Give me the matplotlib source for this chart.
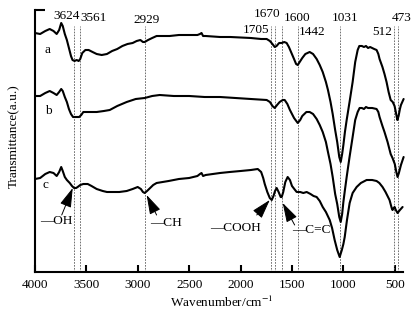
import matplotlib
matplotlib.use("Agg")
import matplotlib.pyplot as plt

plt.rcParams['font.family'] = ['Liberation Serif', 'DejaVu Serif']
plt.rcParams['mathtext.fontset'] = 'stix'

# ---- data (transmittance in arbitrary units, offset curves) ----
wn_a = [4000, 3950, 3900, 3857, 3820, 3789, 3765, 3745, 3730, 3710, 3690, 3670, 3650, 3635,
        3615, 3595, 3575, 3560, 3540, 3510, 3478, 3440, 3400, 3351, 3300, 3250, 3200, 3150,
        3100, 3050, 3011, 2975, 2950, 2933, 2900, 2860, 2817, 2750, 2690, 2600, 2500, 2420,
        2395, 2380, 2365, 2340, 2200, 2100, 1900, 1800, 1746, 1715, 1690, 1668, 1650, 1625,
        1600, 1575, 1552, 1530, 1505, 1480, 1460, 1444, 1425, 1400, 1370, 1328, 1295, 1260,
        1230, 1201, 1170, 1150, 1125, 1104, 1080, 1060, 1040, 1026, 1012, 1000, 985, 968,
        940, 910, 885, 861, 845, 820, 800, 780, 760, 740, 720, 700, 677, 660, 648, 620,
        600, 580, 560, 540, 520, 502, 490, 475, 463, 450, 440, 414]
tr_a = [239, 238, 241, 243, 241, 238, 242, 249, 246, 238, 232, 224, 216, 212,
        211, 212, 211, 213, 219, 222, 222, 220, 218, 217, 218, 221, 223, 226,
        228, 229, 231, 232, 230, 230, 232, 234, 236, 236, 236, 237, 237, 237,
        238, 239, 236, 236, 235, 235, 234, 233, 233, 231, 228, 225, 226, 229,
        229, 230, 229, 225, 219, 213, 208, 207, 210, 214, 218, 220, 218, 213,
        207, 200, 190, 182, 170, 158, 142, 130, 115, 110, 118, 127, 140, 152,
        170, 190, 210, 222, 226, 226, 225, 226, 224, 225, 224, 223, 222, 218, 213, 205,
        198, 190, 180, 172, 170, 166, 160, 152, 156, 163, 167, 173]

wn_b = [4000, 3950, 3900, 3857, 3820, 3789, 3765, 3745, 3730, 3710, 3690, 3670, 3650, 3630,
        3600, 3570, 3550, 3530, 3480, 3400, 3330, 3273, 3200, 3108, 3020, 2933, 2860, 2787,
        2650, 2500, 2350, 2200, 1900, 1746, 1715, 1690, 1668, 1645, 1620, 1590, 1571, 1545,
        1520, 1480, 1444, 1420, 1400, 1360, 1328, 1295, 1260, 1230, 1201, 1170, 1150, 1125,
        1104, 1080, 1060, 1040, 1026, 1012, 1000, 985, 968, 940, 910, 885, 861, 842, 820,
        800, 780, 760, 720, 677, 660, 648, 620, 600, 570, 540, 522, 500, 485, 473, 460,
        440, 414]
tr_b = [176, 176, 179, 181, 179, 177, 180, 183, 181, 175, 170, 163, 158, 155,
        155, 155, 157, 160, 160, 160, 161, 162, 166, 170, 173, 174, 176, 177,
        176, 176, 175, 175, 173, 172, 170, 166, 164, 167, 170, 172, 172, 168,
        162, 154, 149, 152, 156, 160, 160, 158, 153, 147, 140, 130, 120, 108,
        95, 78, 68, 55, 50, 58, 70, 82, 95, 115, 135, 152, 160, 164, 164,
        163, 165, 164, 164, 163, 160, 155, 146, 140, 130, 118, 114, 108, 100, 95, 99,
        107, 115]

wn_c = [4000, 3950, 3900, 3857, 3820, 3789, 3765, 3745, 3730, 3710, 3690, 3662, 3640, 3620,
        3600, 3585, 3560, 3530, 3487, 3450, 3400, 3341, 3300, 3244, 3180, 3108, 3050, 3001,
        2970, 2950, 2933, 2910, 2880, 2850, 2817, 2700, 2600, 2500, 2420, 2395, 2380, 2365,
        2340, 2200, 2106, 2000, 1900, 1833, 1800, 1780, 1765, 1740, 1716, 1697, 1680, 1665,
        1649, 1630, 1610, 1600, 1585, 1565, 1542, 1520, 1500, 1470, 1454, 1420, 1390, 1357,
        1320, 1290, 1260, 1230, 1201, 1170, 1133, 1110, 1085, 1060, 1036, 1015, 1000, 987,
        965, 939, 910, 871, 830, 774, 720, 677, 650, 619, 590, 551, 530, 522, 510, 502,
        490, 473, 450, 424]
tr_c = [93, 94, 98, 100, 99, 96, 100, 105, 101, 95, 92, 89, 86, 84,
        84, 85, 87, 88, 88, 86, 83, 81, 80, 80, 80, 81, 83, 85,
        83, 80, 79, 81, 84, 87, 89, 91, 93, 94, 96, 98, 99, 96,
        97, 99, 100, 101, 102, 103, 100, 94, 88, 80, 74, 72, 76, 81,
        84, 80, 75, 75, 80, 90, 95, 92, 86, 82, 80, 80, 79, 80,
        78, 76, 75, 71, 65, 60, 52, 44, 32, 22, 15, 22, 28, 35,
        52, 69, 79, 85, 89, 92, 92, 91, 89, 85, 80, 72, 64, 62, 64, 65,
        62, 59, 62, 65]

curve_labels = ['a', 'b', 'c']
peak_lines = [3624, 3561, 2929, 1705, 1670, 1600, 1442, 1031, 512, 473]
peak_text = ['3624', '3561', '2929', '1705', '1670', '1600', '1442', '1031', '512', '473']
peak_text_x = [3691, 3430, 2914, 1850, 1746, 1454, 1300, 987, 622, 433]
peak_text_y = [256, 254, 252, 242, 258, 254, 240, 254, 240, 254]

xticks = [4000, 3500, 3000, 2500, 2000, 1500, 1000, 500]

# ---- figure ----
fig = plt.figure(figsize=(4.18, 3.13), dpi=100)
ax = fig.add_axes([35/418, 41/313, 368/418, 262/313])

for v in peak_lines:
    ax.vlines(v, 0, 246, colors='0.35', linestyles=(0, (2, 1.5)), linewidth=0.6)

for wn, tr in [(wn_a, tr_a), (wn_b, tr_b), (wn_c, tr_c)]:
    ax.plot(wn, tr, color='black', linewidth=1.5, clip_on=False,
            solid_joinstyle='round', solid_capstyle='round')

for txt, x, y in zip(peak_text, peak_text_x, peak_text_y):
    ax.text(x, y, txt, ha='center', va='center', fontsize=9.5, clip_on=False)

for lab, x, y in zip(curve_labels, [3874, 3874, 3896], [222, 161, 87]):
    ax.text(x, y, lab, ha='center', va='center', fontsize=9.5)

# functional-group annotations
ann = [("\u2014OH", (3633, 84), (3740, 57), (3789, 51)),
       ("\u2014CH", (2914, 77), (2817, 57), (2725, 49)),
       ("\u2014COOH", (1716, 72), (1843, 57), (2045, 44)),
       ("\u2014C=C", (1590, 69), (1474, 47), (1307, 42))]
for txt, tip, tail, tpos in ann:
    ax.annotate('', xy=tip, xytext=tail,
                arrowprops=dict(arrowstyle='-|>,head_length=1.0,head_width=0.3',
                                color='black', lw=0.7, mutation_scale=12, shrinkA=0, shrinkB=0))
    ax.text(tpos[0], tpos[1], txt, ha='center', va='center', fontsize=9.5)

ax.set_xlim(4000, 420)
ax.set_ylim(0, 262)
ax.set_xticks(xticks)
ax.set_xticklabels([str(t) for t in xticks], fontsize=9.5)
ax.set_yticks([262])
ax.set_yticklabels([])
ax.tick_params(axis='x', direction='in', length=5, width=1.5, pad=5)
ax.tick_params(axis='y', direction='in', length=7, width=1.5)
for s in ['top', 'right']:
    ax.spines[s].set_visible(False)
for s in ['left', 'bottom']:
    ax.spines[s].set_linewidth(1.5)

ax.set_xlabel('Wavenumber/cm$^{-1}$', fontsize=9.5)
ax.set_ylabel('Transmittance(a.u.)', fontsize=9.5)
ax.xaxis.set_label_coords(0.508, -0.118)
ax.yaxis.set_label_coords(-0.057, 0.52)
ax.xaxis.label.set_va('center')
ax.yaxis.label.set_va('center')

fig.savefig('out.png', dpi=100)
